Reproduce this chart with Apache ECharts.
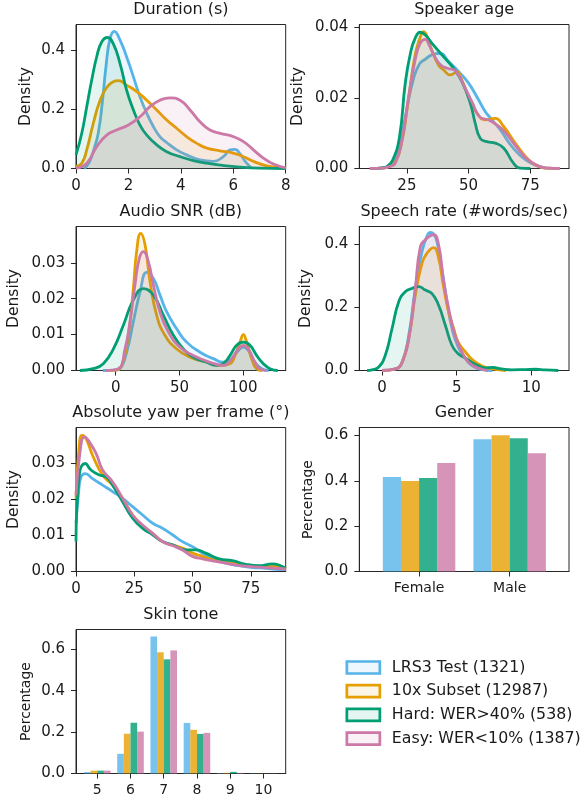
<!DOCTYPE html>
<html><head><meta charset="utf-8">
<script src="https://cdn.jsdelivr.net/npm/echarts@6/dist/echarts.min.js"></script>
<style>html,body{margin:0;padding:0;background:#fff}#c{width:584px;height:798px}</style>
</head><body><div id="c"></div>
<script>
// ---------------- DATA ----------------
const seriesNames = ['LRS3 Test (1321)', '10x Subset (12987)', 'Hard: WER>40% (538)', 'Easy: WER<10% (1387)'];
const panelTitles = ['Duration (s)', 'Speaker age', 'Audio SNR (dB)', 'Speech rate (#words/sec)', 'Absolute yaw per frame (°)', 'Gender', 'Skin tone'];

// Duration (s) KDE
const durLrs3 = [[0.3,0],[0.5,0.02],[0.7,0.07],[0.85,0.12],[1.0,0.22],[1.15,0.35],[1.3,0.44],[1.46,0.464],[1.68,0.434],[1.93,0.378],[2.19,0.31],[2.44,0.243],[2.7,0.187],[2.95,0.142],[3.2,0.108],[3.46,0.088],[3.84,0.063],[4.22,0.046],[4.73,0.029],[5.24,0.024],[5.62,0.04],[5.88,0.063],[6.07,0.065],[6.26,0.049],[6.51,0.018],[6.7,0.001]];
const durSubset = [[0,0.007],[0.22,0.018],[0.41,0.063],[0.66,0.153],[0.92,0.231],[1.17,0.274],[1.42,0.293],[1.62,0.297],[1.93,0.282],[2.32,0.26],[2.7,0.231],[3.08,0.198],[3.46,0.164],[3.84,0.136],[4.22,0.108],[4.61,0.085],[4.99,0.069],[5.5,0.06],[6.0,0.052],[6.39,0.04],[6.77,0.024],[7.28,0.009],[8,0.001]];
const durHard = [[0,0.046],[0.22,0.119],[0.41,0.209],[0.6,0.299],[0.79,0.378],[0.98,0.428],[1.2,0.443],[1.42,0.422],[1.68,0.355],[1.93,0.265],[2.19,0.198],[2.44,0.147],[2.7,0.113],[3.08,0.08],[3.46,0.057],[3.97,0.04],[4.48,0.027],[4.99,0.018],[5.62,0.01],[6.26,0.0045],[7.02,0.001],[8,0]];
const durEasy = [[0,0.001],[0.41,0.018],[0.79,0.074],[1.17,0.113],[1.55,0.13],[2.0,0.147],[2.44,0.175],[2.82,0.209],[3.2,0.231],[3.59,0.239],[3.97,0.231],[4.35,0.198],[4.73,0.158],[5.11,0.13],[5.5,0.119],[6.0,0.108],[6.39,0.091],[6.77,0.063],[7.15,0.035],[7.53,0.015],[8,0.002]];

// Speaker age KDE
const ageLrs3 = [[10,0],[16,0.0002],[18,0.0008],[20,0.002],[22.5,0.008],[25,0.017],[27.5,0.025],[30,0.0295],[32.5,0.031],[35.1,0.0322],[38.5,0.0326],[41.9,0.0303],[45.9,0.0275],[50,0.0242],[54.1,0.0194],[56.8,0.0161],[59.5,0.0138],[62.8,0.011],[67.6,0.0062],[73,0.0025],[78.4,0.0006],[82,0.0001],[87,0]];
const ageSubset = [[10,0],[16,0.0002],[18,0.0006],[20,0.0015],[22.8,0.007],[25.5,0.019],[28.2,0.0317],[30.3,0.037],[31.8,0.0388],[33.5,0.0368],[35.1,0.0336],[37.8,0.0293],[39.9,0.0279],[42.6,0.0265],[45.3,0.0274],[47.3,0.025],[50,0.0204],[53.4,0.0157],[56.8,0.0138],[60.8,0.0142],[64.2,0.0119],[68.9,0.0072],[74.3,0.0025],[78.4,0.0006],[82,0.0001],[87,0]];
const ageHard = [[10,0],[15,0.0002],[17,0.0006],[19.3,0.0025],[22,0.009],[24.3,0.024],[26.4,0.0326],[28.4,0.037],[30.4,0.0386],[32.5,0.0378],[35.1,0.0355],[39.2,0.0322],[43.9,0.0284],[47.3,0.0246],[50.7,0.0185],[52.7,0.0128],[54.7,0.0086],[57.4,0.0076],[60.8,0.0072],[64.2,0.0058],[68.2,0.0015],[70.9,0.0001],[75,0]];
const ageEasy = [[10,0],[16,0.0002],[18,0.0006],[20.3,0.0015],[23,0.008],[25.7,0.0204],[28.4,0.031],[30.4,0.0355],[32.4,0.0366],[34,0.035],[35.9,0.0322],[38.7,0.0293],[41.4,0.0284],[44.9,0.0275],[48.3,0.0232],[51.6,0.0185],[54.4,0.0147],[57.8,0.0138],[60.5,0.0128],[64.5,0.0105],[69.3,0.0062],[74,0.0025],[78.7,0.0006],[82,0.0001],[87,0]];

// Audio SNR (dB) KDE
const snrLrs3 = [[-10,0],[0,0.0001],[3.4,0.0005],[8.6,0.0051],[13.8,0.0135],[19.1,0.0219],[24.3,0.0273],[29.5,0.0256],[34.7,0.021],[40,0.0163],[47.8,0.0116],[55.6,0.0079],[66.1,0.0051],[76.5,0.0033],[84.3,0.0023],[90.9,0.0033],[96.1,0.0056],[100,0.0065],[103.9,0.0056],[109.1,0.0023],[114.4,0.0005],[120,0]];
const snrSubset = [[-5,0],[0,0.0001],[4.7,0.0014],[9.9,0.0098],[13.8,0.0228],[16.4,0.0331],[19.6,0.0382],[23,0.035],[26.9,0.0247],[32.1,0.0154],[38.6,0.0098],[47.8,0.006],[58.2,0.0037],[71.3,0.0023],[81.7,0.0014],[89.6,0.0019],[93.5,0.0042],[97.4,0.0079],[100,0.01],[102.6,0.0079],[106.5,0.0033],[110.4,0.0005],[115,0]];
const snrHard = [[-28,0],[-17.5,0.0005],[-9.7,0.0019],[-1.8,0.006],[6,0.0126],[13.8,0.0196],[21.7,0.0228],[29.5,0.021],[37.3,0.0154],[45.2,0.0098],[53,0.006],[60.8,0.0037],[71.3,0.0023],[79.1,0.0014],[84.3,0.0019],[89.6,0.0042],[94.8,0.007],[100,0.0079],[105.2,0.007],[110.4,0.0042],[115.7,0.0019],[120.9,0.0005],[127,0]];
const snrEasy = [[-8,0],[2,0.0005],[7.3,0.006],[11.2,0.0135],[15.1,0.0238],[18.5,0.0312],[21.7,0.0331],[25.6,0.0303],[29.5,0.0238],[34.7,0.0163],[41.3,0.0107],[50.4,0.0065],[60.8,0.0042],[73.9,0.0023],[84.3,0.0014],[90.9,0.0033],[96.1,0.006],[100,0.007],[103.9,0.006],[109.1,0.0023],[112.9,0.0005],[118,0]];

// Speech rate KDE
const rateLrs3 = [[0,0],[0.9,0.005],[1.34,0.026],[1.79,0.111],[2.23,0.259],[2.68,0.376],[3.0,0.423],[3.24,0.436],[3.45,0.432],[3.68,0.407],[4.0,0.323],[4.35,0.217],[4.69,0.132],[5.1,0.074],[5.6,0.037],[6.0,0.016],[6.7,0.003],[7.4,0]];
const rateSubset = [[0,0],[0.9,0.005],[1.34,0.026],[1.79,0.1],[2.23,0.238],[2.68,0.339],[3.0,0.37],[3.46,0.388],[3.79,0.355],[4.1,0.27],[4.46,0.185],[4.8,0.132],[5.1,0.09],[5.6,0.058],[6.1,0.032],[6.7,0.014],[7.4,0.005],[8.3,0]];
const rateHard = [[-1,0],[-0.67,0.002],[-0.22,0.011],[0.22,0.048],[0.67,0.132],[1.12,0.217],[1.56,0.249],[2.0,0.259],[2.46,0.265],[2.9,0.254],[3.35,0.243],[3.79,0.206],[4.24,0.143],[4.69,0.079],[5.1,0.053],[5.6,0.039],[6.0,0.026],[6.5,0.014],[6.9,0.008],[7.4,0.01],[8.0,0.005],[8.7,0.002],[9.6,0.003],[10.3,0.004],[10.9,0.002],[11.8,0]];
const rateEasy = [[0,0],[0.9,0.005],[1.45,0.037],[1.9,0.132],[2.23,0.259],[2.57,0.392],[2.9,0.413],[3.2,0.425],[3.46,0.429],[3.79,0.397],[4.1,0.291],[4.46,0.196],[4.9,0.111],[5.36,0.058],[5.8,0.026],[6.5,0.007],[7.1,0]];

// Absolute yaw per frame KDE
const yawLrs3 = [[0,0.0134],[1,0.021],[2.1,0.0262],[4,0.0272],[7.1,0.0258],[11.4,0.024],[15.7,0.0222],[20,0.0203],[24.3,0.018],[28.6,0.0157],[32.9,0.0134],[37.1,0.012],[41.4,0.0102],[45.7,0.0083],[50,0.0069],[54.3,0.0051],[58.6,0.0037],[64.3,0.0023],[70,0.0016],[75.7,0.0011],[81.4,0.0009],[85.7,0.0006],[90,0.0005]];
const yawSubset = [[0,0.0203],[1.4,0.0351],[2.6,0.0378],[4.3,0.0369],[7.1,0.0323],[11.4,0.0268],[15.7,0.024],[20,0.0203],[24.3,0.0157],[28.6,0.0125],[32.9,0.0106],[37.1,0.0083],[41.4,0.0074],[45.7,0.0065],[50,0.0051],[54.3,0.0042],[60,0.003],[67.1,0.0023],[74.3,0.0017],[81.4,0.0014],[85.7,0.0016],[90,0.0007]];
const yawHard = [[0,0.0083],[1.4,0.0268],[4,0.03],[6.4,0.0282],[10,0.0268],[12.9,0.0263],[15.7,0.024],[20,0.0194],[24.3,0.0148],[28.6,0.012],[32.9,0.0102],[37.1,0.0083],[41.4,0.0074],[47.1,0.006],[51.4,0.006],[55.7,0.0051],[61.4,0.0035],[67.1,0.003],[72.9,0.002],[78.6,0.0016],[84.3,0.0021],[87.1,0.0018],[90,0.0009]];
const yawEasy = [[0,0.0212],[2.1,0.0351],[3.6,0.0374],[5.7,0.036],[8.6,0.0328],[11.4,0.0282],[15.7,0.0249],[20,0.0203],[24.3,0.0157],[28.6,0.0129],[32.9,0.0106],[37.1,0.0083],[41.4,0.0072],[45.7,0.006],[50,0.0042],[54.3,0.0035],[60,0.0028],[67.1,0.002],[74.3,0.0014],[81.4,0.0011],[90,0.0007]];

// Gender (bars)
const genderCats = ['Female', 'Male'];
const genderLrs3 = [0.417, 0.583];
const genderSubset = [0.399, 0.601];
const genderHard = [0.412, 0.588];
const genderEasy = [0.478, 0.522];

// Skin tone (bars)
const skinCats = [5, 6, 7, 8, 9, 10];
const skinLrs3 = [0.007, 0.095, 0.661, 0.244, 0.002, 0.001];
const skinSubset = [0.014, 0.192, 0.585, 0.211, 0.003, 0.001];
const skinHard = [0.014, 0.245, 0.551, 0.191, 0.008, 0.001];
const skinEasy = [0.014, 0.202, 0.594, 0.196, 0.003, 0.001];

// Tick values
const durXTicks = [0, 2, 4, 6, 8];
const durYTicks = [0, 0.2, 0.4];
const ageXTicks = [25, 50, 75];
const ageYTicks = [0, 0.02, 0.04];
const snrXTicks = [0, 50, 100];
const snrYTicks = [0, 0.01, 0.02, 0.03];
const rateXTicks = [0, 5, 10];
const rateYTicks = [0, 0.2, 0.4];
const yawXTicks = [0, 25, 50, 75];
const yawYTicks = [0, 0.01, 0.02, 0.03];
const pctYTicks = [0, 0.2, 0.4, 0.6];

// ---------------- STYLE / LAYOUT ----------------
const colors = ['#56B4E9', '#E69F00', '#009E73', '#CC79A7'];
const FONT = "'DejaVu Sans', sans-serif";
const TXT = '#1a1a1a';
const AX = '#262626';
const colLeft = [76, 359.3];
const rowTop = [24.5, 226.5, 427.5, 629.5];
const W = 209.7, H = 144;

const panels = [
  {c:0, r:0, xmin:0, xmax:8, xt:durXTicks, ymax:0.487, yt:durYTicks, dec:1, yl:'Density', yo:50},
  {c:1, r:0, xmin:5.7, xmax:90.7, xt:ageXTicks, ymax:0.0408, yt:ageYTicks, dec:2, yl:'Density', yo:61},
  {c:0, r:1, xmin:-31.1, xmax:133.2, xt:snrXTicks, ymax:0.0401, yt:snrYTicks, dec:2, yl:'Density', yo:62},
  {c:1, r:1, xmin:-1.52, xmax:12.52, xt:rateXTicks, ymax:0.455, yt:rateYTicks, dec:1, yl:'Density', yo:53},
  {c:0, r:2, xmin:0, xmax:90, xt:yawXTicks, ymax:0.0400, yt:yawYTicks, dec:2, yl:'Density', yo:62},
  {c:1, r:2, xmin:-0.66, xmax:1.655, xt:[0,1], xlab:genderCats, ymax:0.635, yt:pctYTicks, dec:1, yl:'Percentage', yo:50.6, xfs:14, yfs:14},
  {c:0, r:3, xmin:4.36, xmax:10.67, xt:skinCats, ymax:0.695, yt:pctYTicks, dec:1, yl:'Percentage', yo:50, xfs:14, yfs:14}
];

const grid = [], xAxis = [], yAxis = [], graphic = [];
panels.forEach((p, i) => {
  const left = colLeft[p.c], top = rowTop[p.r];
  grid.push({left, top, width: W, height: H, show: true, borderColor: AX, borderWidth: 1, backgroundColor: 'transparent', containLabel: false});
  const tickCommon = {show: true, inside: false, length: 5, lineStyle: {color: AX, width: 1}};
  xAxis.push({
    type: 'value', gridIndex: i, min: p.xmin, max: p.xmax,
    axisLine: {show: true, onZero: false, lineStyle: {color: AX, width: 1}},
    axisTick: Object.assign({customValues: p.xt}, tickCommon),
    axisLabel: {customValues: p.xt, margin: 10, color: TXT, fontFamily: FONT, fontSize: p.xfs || 15,
      formatter: v => p.xlab ? p.xlab[Math.round(v)] : String(Math.round(v))},
    splitLine: {show: false}
  });
  yAxis.push({
    type: 'value', gridIndex: i, min: 0, max: p.ymax,
    axisLine: {show: true, onZero: false, lineStyle: {color: AX, width: 1}},
    axisTick: Object.assign({customValues: p.yt}, tickCommon),
    axisLabel: {customValues: p.yt, margin: 11, color: TXT, fontFamily: FONT, fontSize: 15,
      formatter: v => v.toFixed(p.dec)},
    splitLine: {show: false}
  });
  graphic.push({type: 'text', x: left + W / 2, y: top - 14.5,
    style: {text: panelTitles[i], fill: TXT, font: `16px ${FONT}`, textAlign: 'center', textVerticalAlign: 'middle'}, silent: true});
  graphic.push({type: 'text', x: left - p.yo, y: top + H / 2, rotation: Math.PI / 2,
    style: {text: p.yl, fill: TXT, font: `${p.yfs || 15.5}px ${FONT}`, textAlign: 'center', textVerticalAlign: 'middle'}, silent: true});
});

const series = [];
function kde(data, si, gi, fill) {
  const s = {
    type: 'line', name: seriesNames[si], xAxisIndex: gi, yAxisIndex: gi, data,
    smooth: 0.5, symbol: 'none', showSymbol: false,
    lineStyle: {color: colors[si], width: 2.8}, itemStyle: {color: colors[si]},
    emphasis: {disabled: true}, animation: false, z: 2 + si
  };
  if (fill) s.areaStyle = {color: colors[si], opacity: 0.1, origin: 'start'};
  series.push(s);
}
[[durLrs3, durSubset, durHard, durEasy, 0, true],
 [ageLrs3, ageSubset, ageHard, ageEasy, 1, true],
 [snrLrs3, snrSubset, snrHard, snrEasy, 2, true],
 [rateLrs3, rateSubset, rateHard, rateEasy, 3, true],
 [yawLrs3, yawSubset, yawHard, yawEasy, 4, false]].forEach(g => {
  for (let k = 0; k < 4; k++) kde(g[k], k, g[4], g[5]);
});

function bars(vals, cats, si, gi) {
  series.push({
    type: 'bar', name: seriesNames[si], xAxisIndex: gi, yAxisIndex: gi,
    data: vals.map((v, j) => [typeof cats[j] === 'number' ? cats[j] : j, v]),
    barGap: '0%', barCategoryGap: '20%',
    itemStyle: {color: colors[si], opacity: 0.8},
    emphasis: {disabled: true}, animation: false
  });
}
[genderLrs3, genderSubset, genderHard, genderEasy].forEach((v, k) => bars(v, genderCats, k, 5));
[skinLrs3, skinSubset, skinHard, skinEasy].forEach((v, k) => bars(v, skinCats, k, 6));

const hexA = (hex, a) => {
  const n = parseInt(hex.slice(1), 16);
  return `rgba(${(n >> 16) & 255},${(n >> 8) & 255},${n & 255},${a})`;
};

const option = {
  animation: false,
  backgroundColor: '#fff',
  grid, xAxis, yAxis, series, graphic,
  legend: {
    orient: 'vertical', left: 345.5, top: 658.5, padding: 0,
    itemWidth: 33, itemHeight: 12, itemGap: 5.7, selectedMode: false,
    textStyle: {color: TXT, fontFamily: FONT, fontSize: 15.8, lineHeight: 18, padding: [0, 0, 0, 7]},
    data: seriesNames.map((n, k) => ({
      name: n, icon: 'rect',
      itemStyle: {color: hexA(colors[k], 0.1), borderColor: colors[k], borderWidth: 2.7, opacity: 1},
      lineStyle: {width: 0}
    }))
  }
};

const chart = echarts.init(document.getElementById('c'), null, {renderer: 'canvas'});
chart.setOption(option);
</script>
</body></html>
